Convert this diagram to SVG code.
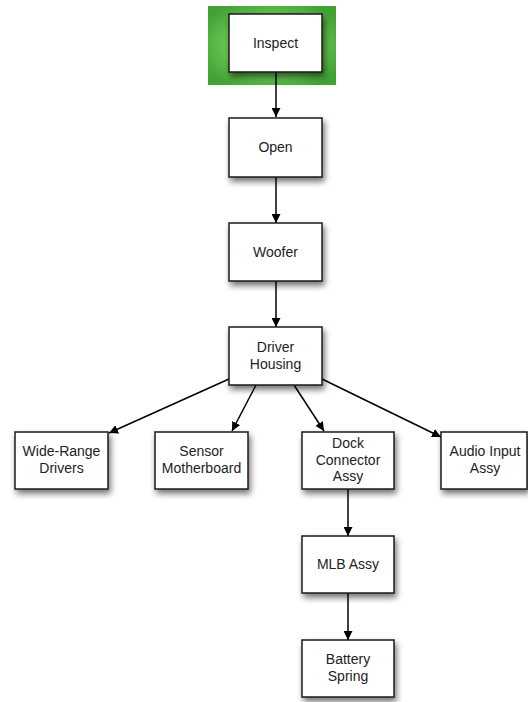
<svg xmlns="http://www.w3.org/2000/svg" width="528" height="702" viewBox="0 0 528 702">
<defs>
<style>
.box{fill:#fff;stroke:#1a1a1a;stroke-width:1.5}
.lbl{font-family:"Liberation Sans",Arial,sans-serif;font-size:14px;fill:#222;text-anchor:middle}
.edge{stroke:#000;stroke-width:1.5;fill:none}
</style>
<filter id="sh" x="-20%" y="-20%" width="150%" height="160%">
<feGaussianBlur in="SourceAlpha" stdDeviation="3"/>
<feOffset dx="2" dy="4" result="b"/>
<feComponentTransfer><feFuncA type="linear" slope="0.55"/></feComponentTransfer>
<feMerge><feMergeNode/><feMergeNode in="SourceGraphic"/></feMerge>
</filter>
<radialGradient id="gr" cx="50%" cy="50%" r="60%">
<stop offset="0" stop-color="#a8e496"/>
<stop offset="0.6" stop-color="#66c452"/>
<stop offset="1" stop-color="#42a234"/>
</radialGradient>
<marker id="ah" viewBox="0 0 10 10" refX="10" refY="5" markerWidth="9" markerHeight="9" markerUnits="userSpaceOnUse" orient="auto">
<path d="M0,0 L10,5 L0,10 z" fill="#000"/>
</marker>
</defs>
<rect x="0" y="0" width="528" height="702" fill="#fff"/>
<rect x="208" y="6" width="128" height="79" fill="url(#gr)"/>
<g id="edges">
<line class="edge" x1="276" y1="72" x2="276" y2="117" marker-end="url(#ah)"/>
<line class="edge" x1="276" y1="177" x2="276" y2="223" marker-end="url(#ah)"/>
<line class="edge" x1="276" y1="281" x2="276" y2="327" marker-end="url(#ah)"/>
<line class="edge" x1="229" y1="379" x2="109" y2="433" marker-end="url(#ah)"/>
<line class="edge" x1="256" y1="385" x2="232" y2="431" marker-end="url(#ah)"/>
<line class="edge" x1="294" y1="385" x2="324" y2="431" marker-end="url(#ah)"/>
<line class="edge" x1="322" y1="379" x2="441" y2="437" marker-end="url(#ah)"/>
<line class="edge" x1="348" y1="489" x2="348" y2="536" marker-end="url(#ah)"/>
<line class="edge" x1="348" y1="593" x2="348" y2="640" marker-end="url(#ah)"/>
</g>
<g id="inspect"><rect class="box" x="229" y="14" width="93" height="58" filter="url(#sh)"/><text class="lbl" x="275.5" y="48">Inspect</text></g>
<g id="open"><rect class="box" x="229" y="118" width="93" height="59" filter="url(#sh)"/><text class="lbl" x="275.5" y="152">Open</text></g>
<g id="woofer"><rect class="box" x="229" y="223" width="93" height="58" filter="url(#sh)"/><text class="lbl" x="275.5" y="257">Woofer</text></g>
<g id="driver-housing"><rect class="box" x="229" y="327" width="93" height="58" filter="url(#sh)"/><text class="lbl" x="275.5" y="352">Driver</text><text class="lbl" x="275.5" y="369">Housing</text></g>
<g id="wide-range"><rect class="box" x="15" y="432" width="93" height="57" filter="url(#sh)"/><text class="lbl" x="61.5" y="456">Wide-Range</text><text class="lbl" x="61.5" y="473">Drivers</text></g>
<g id="sensor"><rect class="box" x="155" y="432" width="93" height="57" filter="url(#sh)"/><text class="lbl" x="201.5" y="456">Sensor</text><text class="lbl" x="201.5" y="473">Motherboard</text></g>
<g id="dock"><rect class="box" x="302" y="432" width="92" height="57" filter="url(#sh)"/><text class="lbl" x="348" y="448">Dock</text><text class="lbl" x="348" y="464.5">Connector</text><text class="lbl" x="348" y="481">Assy</text></g>
<g id="audio"><rect class="box" x="441" y="432" width="86" height="57" filter="url(#sh)"/><text class="lbl" x="485" y="456">Audio Input</text><text class="lbl" x="485" y="473">Assy</text></g>
<g id="mlb"><rect class="box" x="302" y="536" width="92" height="57" filter="url(#sh)"/><text class="lbl" x="348" y="569">MLB Assy</text></g>
<g id="battery"><rect class="box" x="302" y="640" width="92" height="57" filter="url(#sh)"/><text class="lbl" x="348" y="664">Battery</text><text class="lbl" x="348" y="681">Spring</text></g>
</svg>
